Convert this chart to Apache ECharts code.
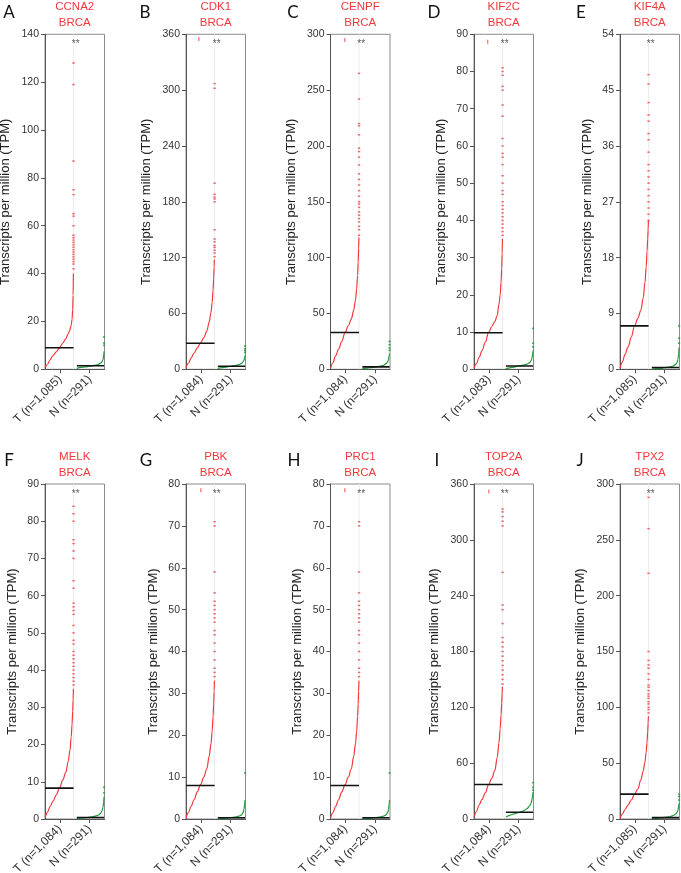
<!DOCTYPE html>
<html>
<head>
<meta charset="utf-8">
<script src="https://cdn.jsdelivr.net/npm/echarts@6/dist/echarts.min.js"></script>
<style>
  html, body { margin: 0; padding: 0; background: #ffffff; }
  #chart { width: 681px; height: 873px; }
</style>
</head>
<body>
<div id="chart"></div>
<script>
// ---------------- DATA ----------------
const panelLetters = ['A', 'B', 'C', 'D', 'E', 'F', 'G', 'H', 'I', 'J'];
const genes = ['CCNA2', 'CDK1', 'CENPF', 'KIF2C', 'KIF4A', 'MELK', 'PBK', 'PRC1', 'TOP2A', 'TPX2'];
const cancer = 'BRCA';
const tumorN = ['1,085', '1,084', '1,084', '1,083', '1,085', '1,084', '1,084', '1,084', '1,084', '1,085'];
const normalN = ['291', '291', '291', '291', '291', '291', '291', '291', '291', '291'];
const yMax = [140, 360, 300, 90, 54, 90, 80, 80, 360, 300];
const yStep = [20, 60, 50, 10, 9, 10, 10, 10, 60, 50];

// position within the tumour band (0..1) of the points
const tumorRankX = [0.005, 0.08, 0.17, 0.27, 0.38, 0.49, 0.6, 0.7, 0.78, 0.84, 0.88, 0.91, 0.93, 0.945, 0.955];
const tumorCurves = [
  [0.7, 2.0, 4.0, 5.8, 7.3, 9.1, 11.0, 12.8, 14.8, 16.5, 18.5, 21, 25, 31, 40],
  [2, 6.5, 12, 17.5, 23, 28.5, 34, 41, 51, 61, 72, 85, 98, 110, 118],
  [1, 6, 12, 18, 25, 33, 39, 45, 53, 62, 72, 84, 96, 108, 118],
  [0.3, 1.5, 3.2, 5, 7.3, 9.9, 11.5, 12.8, 14.5, 17.5, 20, 23.5, 27, 31, 35],
  [0.2, 1.2, 2.4, 3.6, 5.2, 7, 8.2, 9.5, 11.5, 14, 16.5, 19, 21, 22.5, 24],
  [0.4, 1.8, 3.3, 4.8, 6.5, 8.4, 10.5, 12.5, 15.5, 18.5, 22, 25.5, 29, 32, 35],
  [0.3, 1.5, 3, 4.6, 6.5, 8.2, 10, 12, 15, 18, 21, 24.5, 27.5, 30.5, 33],
  [0.3, 1.5, 3, 4.6, 6.5, 8.2, 10, 12, 15, 18, 21, 24.5, 27.5, 30.5, 33],
  [2, 8, 15, 21, 28, 37, 44, 52, 66, 82, 97, 112, 124, 135, 142],
  [1, 4.5, 8.5, 12.5, 17, 22.4, 27, 35, 43, 51, 60, 69, 78, 86, 92]
];
const tumorOutliers = [
  [42, 44, 45, 46, 47, 48, 49, 50, 51, 52, 53, 54, 55, 56, 60, 64, 65, 73, 75, 87, 119, 128],
  [121, 125, 128, 131, 133, 137, 140, 150, 180, 183, 185, 188, 200, 302, 307],
  [120, 125, 128, 132, 135, 138, 141, 145, 148, 150, 155, 160, 165, 170, 175, 183, 190, 195, 198, 210, 218, 220, 242, 265],
  [36, 37, 38, 39, 40, 41, 42, 43, 44, 45, 47, 48, 50, 52, 55, 57, 58, 60, 62, 68, 71, 75, 76, 79, 80, 81],
  [24, 25, 26, 27, 28, 29, 30, 31, 32, 33, 35, 37, 38, 40, 41, 43, 46, 47.5],
  [36, 37, 38, 39, 40, 41, 42, 43, 44, 45, 47, 48, 50, 52, 55, 56, 57, 58, 62, 64, 70, 72, 74, 75, 80, 82, 84],
  [34, 35, 36, 38, 40, 42, 44, 45, 47, 48, 49, 50, 51, 52, 54, 59, 70, 71],
  [34, 35, 36, 38, 40, 42, 44, 45, 47, 48, 49, 50, 51, 52, 54, 59, 70, 71],
  [145, 150, 155, 160, 165, 170, 175, 180, 185, 190, 195, 210, 225, 230, 265, 315, 320, 325, 330, 333],
  [95, 98, 100, 103, 105, 108, 110, 112, 115, 118, 120, 125, 130, 135, 138, 142, 150, 220, 260, 288]
];
// isolated point drawn at the top of some panels: [position in tumour band, value]
const tumorTopPoint = [null, [0.43, 355], [0.48, 295], [0.46, 88], null, null, [0.5, 78.5], [0.48, 78.5], [0.5, 352], null];
const tumorMedian = [9, 28, 33, 9.8, 7, 8.3, 8, 8, 37, 22.3];

const normalRankX = [0.07, 0.2, 0.35, 0.5, 0.65, 0.78, 0.87, 0.92, 0.95, 0.97, 0.985];
const normalCurves = [
  [0.4, 0.8, 1.0, 1.3, 1.6, 2.0, 2.6, 3.2, 4.0, 5.5, 7.5],
  [1, 1.8, 2.4, 3.2, 4, 5, 6.5, 8, 10, 12.5, 15],
  [0.5, 1.0, 1.5, 2.0, 2.7, 3.5, 5, 6.5, 9, 12, 14],
  [0.2, 0.4, 0.6, 0.9, 1.1, 1.4, 1.8, 2.3, 3, 4, 5],
  [0.05, 0.1, 0.15, 0.25, 0.35, 0.5, 0.8, 1.1, 1.6, 2.5, 3.5],
  [0.1, 0.2, 0.3, 0.5, 0.7, 1.0, 1.5, 2.2, 3.2, 4.5, 6],
  [0.05, 0.1, 0.2, 0.3, 0.45, 0.7, 1.0, 1.5, 2.3, 3.5, 4.5],
  [0.05, 0.1, 0.2, 0.3, 0.45, 0.7, 1.0, 1.5, 2.3, 3.5, 4.5],
  [2, 4, 5.5, 7, 8.5, 11, 14, 17, 21, 25, 29],
  [0.3, 0.6, 1, 1.5, 2, 3, 4.5, 6, 8, 11, 14]
];
const normalOutliers = [
  [10, 11, 13.5],
  [18, 20, 22, 25],
  [17, 19, 22, 25],
  [6, 7, 11],
  [4.2, 5, 7],
  [7, 8.5],
  [11],
  [11],
  [31, 34, 39],
  [17, 20, 22]
];
const normalMedian = [1.5, 3.3, 2.2, 0.9, 0.3, 0.4, 0.3, 0.3, 7.2, 1.2];
const significance = ['**', '**', '**', '**', '**', '**', '**', '**', '**', '**'];

// ---------------- LAYOUT / STYLE ----------------
const FONT = 'Liberation Sans';
const RED = '#f2383c';
const GREEN = '#1f9a3c';
const colLeft = [45, 186, 330.5, 474, 620];
const rowTop = [34.3, 484];
const gridW = 59.5, gridH = 335;
const letterX = [[9, 145, 293, 434, 581], [9, 146, 294, 437, 580]];
const letterY = [12.5, 461];
const geneY = [[7, 23.3], [456.7, 473.3]];
const outlierColX = 0.96;

const grids = [], xAxes = [], yAxes = [], series = [], graphics = [];

for (let i = 0; i < genes.length; i++) {
  const r = Math.floor(i / 5), c = i % 5;
  grids.push({
    left: colLeft[c], top: rowTop[r], width: gridW, height: gridH,
    containLabel: false, outerBoundsMode: 'none',
    show: true, borderColor: '#8a8a8a', borderWidth: 1, backgroundColor: 'transparent'
  });
  xAxes.push({
    gridIndex: i, type: 'category', boundaryGap: true,
    data: ['T (n=' + tumorN[i] + ')', 'N (n=' + normalN[i] + ')'],
    axisLine: { show: true, lineStyle: { color: '#555', width: 1 } },
    axisTick: { show: true, alignWithLabel: true, length: 4, lineStyle: { color: '#555' } },
    axisLabel: { rotate: 45, interval: 0, fontSize: 12, color: '#333', margin: 8, fontFamily: FONT },
    splitLine: { show: false }
  });
  xAxes.push({ gridIndex: i, type: 'value', min: 0, max: 2, show: false });
  yAxes.push({
    gridIndex: i, type: 'value', min: 0, max: yMax[i], interval: yStep[i],
    name: 'Transcripts per million (TPM)', nameLocation: 'middle',
    nameGap: yMax[i] >= 100 ? 33 : 26.5,
    nameTextStyle: { fontSize: 13, color: '#222', fontFamily: FONT },
    axisLine: { show: true, lineStyle: { color: '#555', width: 1 } },
    axisTick: { show: true, length: 4, lineStyle: { color: '#555' } },
    axisLabel: { fontSize: 10.5, color: '#333', margin: 6, fontFamily: FONT },
    splitLine: { show: false }
  });
  const xi = 2 * i + 1, yi = i;

  // faint divider behind the tumour outlier column
  series.push({
    type: 'line', xAxisIndex: xi, yAxisIndex: yi, z: 1, showSymbol: false, silent: true,
    lineStyle: { color: '#ececec', width: 1 },
    data: [[outlierColX, 0], [outlierColX, yMax[i]]]
  });
  // tumour outlier column
  series.push({
    type: 'scatter', xAxisIndex: xi, yAxisIndex: yi, z: 3,
    symbol: 'rect', symbolSize: [2.4, 1.5],
    itemStyle: { color: RED, opacity: 0.75, borderWidth: 0 },
    data: tumorOutliers[i].map(v => [outlierColX, v])
  });
  // tumour curve
  series.push({
    type: 'line', xAxisIndex: xi, yAxisIndex: yi, z: 3,
    smooth: 0.35, smoothMonotone: 'x', showSymbol: false,
    lineStyle: { color: RED, width: 1.2 },
    data: tumorRankX.map((x, k) => [x, tumorCurves[i][k]])
  });
  if (tumorTopPoint[i]) {
    series.push({
      type: 'scatter', xAxisIndex: xi, yAxisIndex: yi, z: 3,
      symbol: 'rect', symbolSize: [1.3, 4], itemStyle: { color: RED, opacity: 0.7, borderWidth: 0 },
      data: [tumorTopPoint[i]]
    });
  }
  // normal curve
  series.push({
    type: 'line', xAxisIndex: xi, yAxisIndex: yi, z: 3,
    smooth: 0.35, smoothMonotone: 'x', showSymbol: false,
    lineStyle: { color: GREEN, width: 1.2 },
    data: normalRankX.map((x, k) => [1 + x, normalCurves[i][k]])
  });
  series.push({
    type: 'scatter', xAxisIndex: xi, yAxisIndex: yi, z: 3,
    symbol: 'rect', symbolSize: [2.2, 1.6], itemStyle: { color: GREEN, borderWidth: 0 },
    data: normalOutliers[i].map(v => [1.985, v])
  });
  // medians
  series.push({
    type: 'line', xAxisIndex: xi, yAxisIndex: yi, z: 4, showSymbol: false,
    lineStyle: { color: '#111', width: 1.6 },
    data: [[0, tumorMedian[i]], [outlierColX, tumorMedian[i]]]
  });
  series.push({
    type: 'line', xAxisIndex: xi, yAxisIndex: yi, z: 4, showSymbol: false,
    lineStyle: { color: '#111', width: 1.6 },
    data: [[1.07, normalMedian[i]], [1.985, normalMedian[i]]]
  });
  // significance mark
  series.push({
    type: 'scatter', xAxisIndex: xi, yAxisIndex: yi, z: 5, symbolSize: 0,
    data: [[1.03, yMax[i]]],
    label: {
      show: true, position: 'inside', offset: [0, 10], formatter: significance[i],
      fontSize: 10, color: '#333', fontFamily: FONT
    }
  });

  graphics.push({
    type: 'text', x: letterX[r][c], y: letterY[r],
    style: { text: panelLetters[i], font: '17px Lato', fill: '#111',
             textAlign: 'center', textVerticalAlign: 'middle' }
  });
  graphics.push({
    type: 'text', x: colLeft[c] + gridW / 2, y: geneY[r][0],
    style: { text: genes[i], font: '11.5px ' + FONT, fill: RED, textAlign: 'center', textVerticalAlign: 'middle' }
  });
  graphics.push({
    type: 'text', x: colLeft[c] + gridW / 2, y: geneY[r][1],
    style: { text: cancer, font: '11.5px ' + FONT, fill: RED, textAlign: 'center', textVerticalAlign: 'middle' }
  });
}

const chart = echarts.init(document.getElementById('chart'), null, { renderer: 'canvas' });
chart.setOption({
  animation: false,
  backgroundColor: '#ffffff',
  textStyle: { fontFamily: FONT },
  grid: grids, xAxis: xAxes, yAxis: yAxes, series: series, graphic: graphics
});
</script>
</body>
</html>
